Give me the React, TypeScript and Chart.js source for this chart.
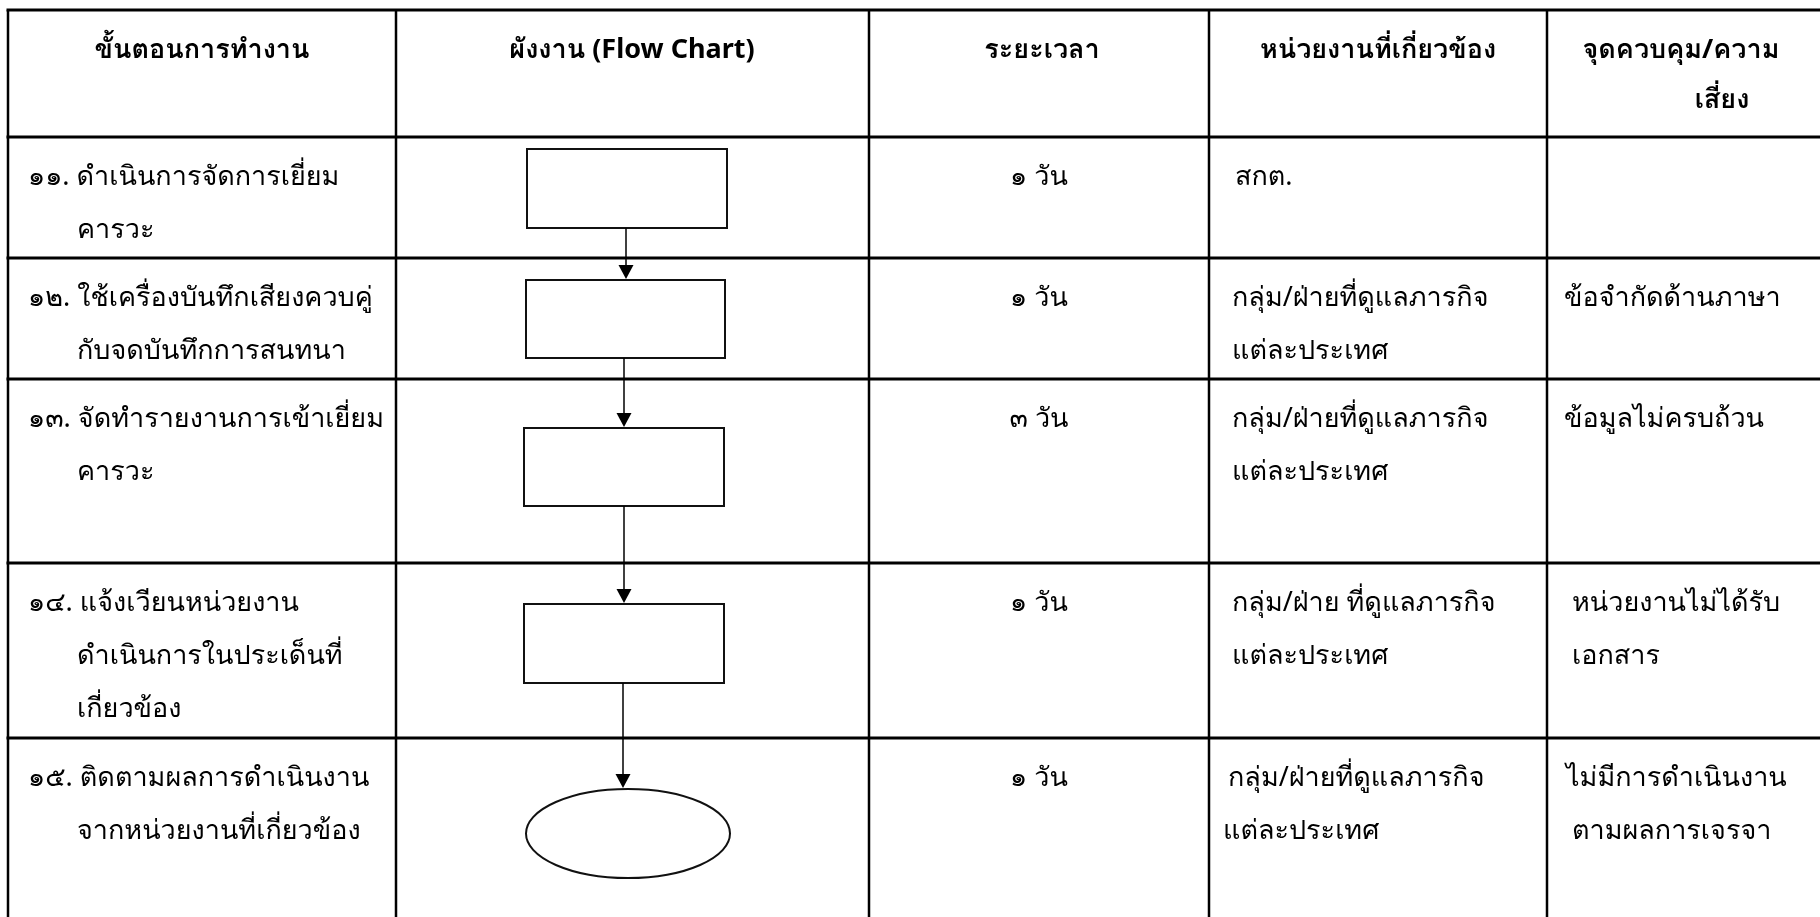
import React, { useEffect, useRef } from "react";
import { Chart, registerables } from "chart.js";

Chart.register(...registerables);

// ---- table structure (in page pixels, used as data units on the hidden linear scales) ----
const colEdges = [8, 396, 869, 1209, 1547, 1822];
const rowEdges = [10, 137, 258, 379, 563, 738, 919];

const headers = [
  ["ขั้นตอนการทำงาน"],
  ["ผังงาน (Flow Chart)"],
  ["ระยะเวลา"],
  ["หน่วยงานที่เกี่ยวข้อง"],
  ["จุดควบคุม/ความ", "เสี่ยง"],
];
const headerCenters = [[202], [632], [1042], [1378], [1681, 1722]];

const steps = [
  ["๑๑. ดำเนินการจัดการเยี่ยม", "คารวะ"],
  ["๑๒. ใช้เครื่องบันทึกเสียงควบคู่", "กับจดบันทึกการสนทนา"],
  ["๑๓. จัดทำรายงานการเข้าเยี่ยม", "คารวะ"],
  ["๑๔. แจ้งเวียนหน่วยงาน", "ดำเนินการในประเด็นที่", "เกี่ยวข้อง"],
  ["๑๕. ติดตามผลการดำเนินงาน", "จากหน่วยงานที่เกี่ยวข้อง"],
];
const durations = ["๑ วัน", "๑ วัน", "๓ วัน", "๑ วัน", "๑ วัน"];
const units = [
  ["สกต."],
  ["กลุ่ม/ฝ่ายที่ดูแลภารกิจ", "แต่ละประเทศ"],
  ["กลุ่ม/ฝ่ายที่ดูแลภารกิจ", "แต่ละประเทศ"],
  ["กลุ่ม/ฝ่าย ที่ดูแลภารกิจ", "แต่ละประเทศ"],
  ["กลุ่ม/ฝ่ายที่ดูแลภารกิจ", "แต่ละประเทศ"],
];
const unitX = [[1235], [1232, 1232], [1232, 1232], [1232, 1232], [1228, 1223]];
const risks = [
  [],
  ["ข้อจำกัดด้านภาษา"],
  ["ข้อมูลไม่ครบถ้วน"],
  ["หน่วยงานไม่ได้รับ", "เอกสาร"],
  ["ไม่มีการดำเนินงาน", "ตามผลการเจรจา"],
];
const riskX = [[], [1564], [1564], [1572, 1572], [1566, 1572]];

// flow chart nodes
const nodeKinds = ["box", "box", "box", "box", "ellipse"];
const nodeLeft = [527, 526, 524, 524, 526];
const nodeRight = [727, 725, 724, 724, 730];
const nodeTop = [149, 280, 428, 604, 789];
const nodeBottom = [228, 358, 506, 683, 878];
const arrowX = [626, 624, 624, 623];

const FONT = "'Noto Sans', Loma, Garuda, 'Noto Sans Thai', sans-serif";
const FS = 27;
const HFS = 27;
const LINE1 = 40;
const LINE_GAP = 53;

const tablePlugin = {
  id: "tablePlugin",
  afterDraw(chart: any) {
    const ctx = chart.ctx as CanvasRenderingContext2D;
    const xs = chart.scales.x;
    const ys = chart.scales.y;
    const X = (v: number) => xs.getPixelForValue(v);
    const Y = (v: number) => ys.getPixelForValue(v);
    ctx.save();
    ctx.fillStyle = "#ffffff";
    ctx.fillRect(0, 0, chart.width, chart.height);

    // grid lines
    ctx.strokeStyle = "#000";
    ctx.lineWidth = 3;
    rowEdges.forEach((r) => {
      ctx.beginPath();
      ctx.moveTo(X(colEdges[0]) - 1.5, Y(r));
      ctx.lineTo(X(colEdges[colEdges.length - 1]), Y(r));
      ctx.stroke();
    });
    ctx.lineWidth = 2.5;
    colEdges.forEach((c) => {
      ctx.beginPath();
      ctx.moveTo(X(c), Y(rowEdges[0]));
      ctx.lineTo(X(c), Y(rowEdges[rowEdges.length - 1]));
      ctx.stroke();
    });

    // flow chart nodes
    ctx.lineWidth = 2;
    ctx.strokeStyle = "#111";
    nodeKinds.forEach((k, i) => {
      const l = X(nodeLeft[i]), r = X(nodeRight[i]);
      const t = Y(nodeTop[i]), b = Y(nodeBottom[i]);
      ctx.beginPath();
      if (k === "box") {
        ctx.rect(l, t, r - l, b - t);
      } else {
        ctx.ellipse((l + r) / 2, (t + b) / 2, (r - l) / 2, (b - t) / 2, 0, 0, Math.PI * 2);
      }
      ctx.stroke();
    });
    // arrows
    for (let i = 0; i < arrowX.length; i++) {
      const ax = X(arrowX[i]);
      const y0 = Y(nodeBottom[i]);
      const y1 = Y(nodeTop[i + 1]);
      ctx.lineWidth = 1.5;
      ctx.strokeStyle = "#000";
      ctx.beginPath();
      ctx.moveTo(ax, y0);
      ctx.lineTo(ax, y1 - 12);
      ctx.stroke();
      ctx.fillStyle = "#000";
      ctx.beginPath();
      ctx.moveTo(ax - 7.5, y1 - 15);
      ctx.lineTo(ax + 7.5, y1 - 15);
      ctx.lineTo(ax, y1 - 1);
      ctx.closePath();
      ctx.fill();
    }

    // text
    ctx.fillStyle = "#000";
    ctx.textBaseline = "middle";
    ctx.font = `bold ${HFS}px ${FONT}`;
    ctx.textAlign = "center";
    headers.forEach((lines, c) => {
      lines.forEach((s, j) => {
        ctx.fillText(s, X(headerCenters[c][j]), Y(rowEdges[0] + 40 + j * 50));
      });
    });
    ctx.font = `${FS}px ${FONT}`;
    steps.forEach((lines, i) => {
      const top = rowEdges[i + 1];
      ctx.textAlign = "left";
      lines.forEach((s, j) => {
        ctx.fillText(s, X(j === 0 ? 28 : 77), Y(top + LINE1 + j * LINE_GAP));
      });
      ctx.textAlign = "center";
      ctx.fillText(durations[i], X((colEdges[2] + colEdges[3]) / 2), Y(top + LINE1));
      ctx.textAlign = "left";
      units[i].forEach((s, j) => {
        ctx.fillText(s, X(unitX[i][j]), Y(top + LINE1 + j * LINE_GAP));
      });
      risks[i].forEach((s, j) => {
        ctx.fillText(s, X(riskX[i][j]), Y(top + LINE1 + j * LINE_GAP));
      });
    });
    ctx.restore();
  },
};

export default function App() {
  const ref = useRef<HTMLCanvasElement | null>(null);
  useEffect(() => {
    if (!ref.current) return;
    const chart = new Chart(ref.current, {
      type: "scatter",
      data: { datasets: [{ data: [], pointRadius: 0 }] },
      options: {
        animation: false,
        responsive: true,
        maintainAspectRatio: false,
        devicePixelRatio: 1,
        layout: { padding: 0 },
        plugins: { legend: { display: false }, tooltip: { enabled: false } },
        scales: {
          x: { type: "linear", display: false, min: 0, max: 1820 },
          y: { type: "linear", display: false, min: 0, max: 917, reverse: true },
        },
      },
      plugins: [tablePlugin],
    });
    return () => chart.destroy();
  }, []);
  return (
    <div style={{ position: "absolute", left: 0, top: 0, width: 1820, height: 917, background: "#fff" }}>
      <canvas ref={ref} />
    </div>
  );
}
